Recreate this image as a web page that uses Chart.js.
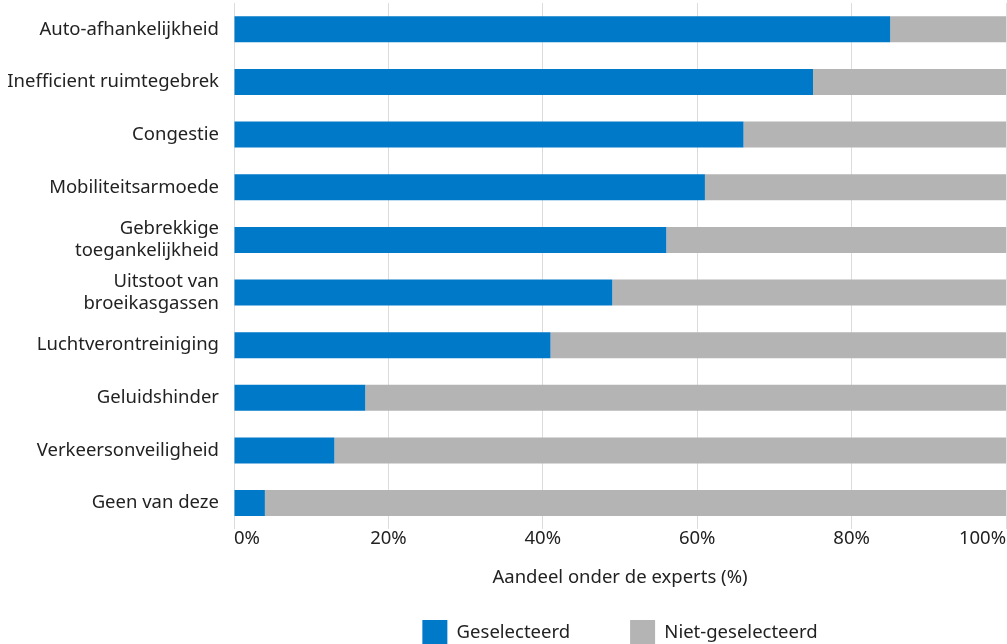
<!DOCTYPE html>
<html>
<head>
<meta charset="utf-8">
<script src="https://cdn.jsdelivr.net/npm/chart.js@4"></script>
<style>
  body { margin: 0; background: #fff; }
  #wrap { width: 1007px; height: 644px; }
</style>
</head>
<body>
<div id="wrap"><canvas id="myChart" width="1007" height="644"></canvas></div>
<script>
// categorieën (van boven naar beneden)
var categorieen = [
    'Auto-afhankelijkheid',
    'Inefficient ruimtegebrek',
    'Congestie',
    'Mobiliteitsarmoede',
    ['Gebrekkige', 'toegankelijkheid'],
    ['Uitstoot van', 'broeikasgassen'],
    'Luchtverontreiniging',
    'Geluidshinder',
    'Verkeersonveiligheid',
    'Geen van deze'
];

// aandeel experts dat het probleem selecteerde (%)
var geselecteerd = [85, 75, 66, 61, 56, 49, 41, 17, 13, 4];
// rest tot 100%
var nietGeselecteerd = [15, 25, 34, 39, 44, 51, 59, 83, 87, 96];

var xTicks = [0, 20, 40, 60, 80, 100];

var blauw = '#0079c8';
var grijs = '#b4b4b4';
var tekst = '#222222';

Chart.defaults.font.family = "'Noto Sans', 'Open Sans', sans-serif";
Chart.defaults.font.size = 18.5;
Chart.defaults.color = tekst;

const ctx = document.getElementById('myChart');
new Chart(ctx, {
    type: 'bar',
    data: {
        labels: categorieen,
        datasets: [{
            label: 'Geselecteerd',
            data: geselecteerd,
            backgroundColor: blauw,
            borderWidth: 0,
            barPercentage: 0.494,
            categoryPercentage: 1
        },
        {
            label: 'Niet-geselecteerd',
            data: nietGeselecteerd,
            backgroundColor: grijs,
            borderWidth: 0,
            barPercentage: 0.494,
            categoryPercentage: 1
        }]
    },
    options: {
        indexAxis: 'y',
        responsive: false,
        animation: false,
        layout: {
            autoPadding: false,
            padding: { left: 0, top: 3, right: 1, bottom: 0 }
        },
        scales: {
            x: {
                stacked: true,
                min: 0,
                max: 100,
                afterBuildTicks: function (axis) {
                    axis.ticks = xTicks.map(function (v) { return { value: v }; });
                },
                afterFit: function (axis) {
                    axis.height = 30.6;
                },
                ticks: {
                    align: 'inner',
                    padding: -2,
                    callback: function (v) { return v + '%'; }
                },
                grid: {
                    color: '#dcdcdc',
                    drawTicks: false
                },
                border: { display: false },
                title: {
                    display: true,
                    text: 'Aandeel onder de experts (%)',
                    padding: { top: 0, bottom: -29 }
                }
            },
            y: {
                stacked: true,
                afterFit: function (axis) {
                    axis.width = 234;
                    axis.paddingTop = 0;
                    axis.paddingBottom = 0;
                },
                grid: { display: false, drawTicks: false },
                border: { display: false },
                ticks: { padding: 15 }
            }
        },
        plugins: {
            legend: {
                position: 'bottom',
                fullSize: false,
                maxHeight: 84,
                labels: {
                    boxWidth: 25,
                    boxHeight: 25,
                    padding: 60,
                    color: tekst
                }
            },
            tooltip: { enabled: false }
        }
    }
});
</script>
</body>
</html>
